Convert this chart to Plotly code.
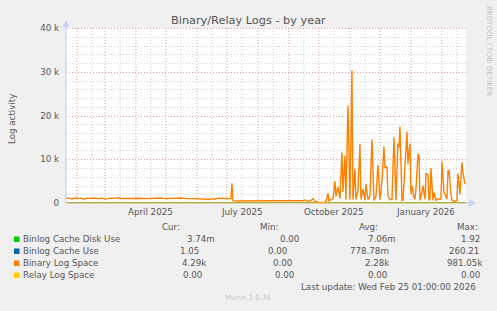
import plotly.graph_objects as go

# ---------------- data ----------------
TITLE = "Binary/Relay Logs - by year"
Y_TITLE = "Log activity"

binary_dates = [
    "2025-01-21", "2025-01-24", "2025-01-27", "2025-01-30", "2025-02-02", "2025-02-05",
    "2025-02-08", "2025-02-11", "2025-02-14", "2025-02-18", "2025-02-22", "2025-02-26",
    "2025-03-02", "2025-03-06", "2025-03-10", "2025-03-14", "2025-03-18", "2025-03-22",
    "2025-03-26", "2025-03-30", "2025-04-02", "2025-04-06", "2025-04-10", "2025-04-14",
    "2025-04-18", "2025-04-22", "2025-04-26", "2025-04-30", "2025-05-04", "2025-05-08",
    "2025-05-12", "2025-05-16", "2025-05-20", "2025-05-24", "2025-05-28", "2025-06-01",
    "2025-06-05", "2025-06-09", "2025-06-13", "2025-06-16", "2025-06-19", "2025-06-22",
    "2025-06-25", "2025-06-28", "2025-07-01", "2025-07-04", "2025-07-05", "2025-07-06",
    "2025-07-07", "2025-07-12", "2025-07-20", "2025-07-28", "2025-08-05", "2025-08-13",
    "2025-08-21", "2025-08-29", "2025-09-04", "2025-09-10", "2025-09-15", "2025-09-17",
    "2025-09-20", "2025-09-23", "2025-09-25", "2025-09-27", "2025-09-29", "2025-09-30",
    "2025-10-02", "2025-10-04", "2025-10-06", "2025-10-08", "2025-10-10", "2025-10-11",
    "2025-10-13", "2025-10-15", "2025-10-17", "2025-10-18", "2025-10-20", "2025-10-22",
    "2025-10-24", "2025-10-25", "2025-10-27", "2025-10-28", "2025-10-30", "2025-11-01",
    "2025-11-03", "2025-11-04", "2025-11-06", "2025-11-07", "2025-11-09", "2025-11-11",
    "2025-11-12", "2025-11-14", "2025-11-16", "2025-11-17", "2025-11-19", "2025-11-21",
    "2025-11-23", "2025-11-25", "2025-11-27", "2025-11-29", "2025-12-01", "2025-12-03",
    "2025-12-05", "2025-12-06", "2025-12-08", "2025-12-09", "2025-12-11", "2025-12-13",
    "2025-12-15", "2025-12-17", "2025-12-19", "2025-12-20", "2025-12-21", "2025-12-23",
    "2025-12-24", "2025-12-25", "2025-12-26", "2025-12-28", "2025-12-29", "2025-12-31",
    "2026-01-01", "2026-01-02", "2026-01-04", "2026-01-05", "2026-01-06", "2026-01-08",
    "2026-01-09", "2026-01-10", "2026-01-12", "2026-01-13", "2026-01-15", "2026-01-16",
    "2026-01-18", "2026-01-19", "2026-01-20", "2026-01-21", "2026-01-23", "2026-01-24",
    "2026-01-26", "2026-01-28", "2026-01-30", "2026-01-31", "2026-02-01", "2026-02-03",
    "2026-02-04", "2026-02-06", "2026-02-07", "2026-02-08", "2026-02-10", "2026-02-11",
    "2026-02-13", "2026-02-14", "2026-02-16", "2026-02-17", "2026-02-19", "2026-02-20",
    "2026-02-21", "2026-02-22", "2026-02-24",
]
binary_values = [
    1050, 1100, 900, 1150, 1050, 1100,
    850, 1100, 1050, 1150, 1000, 1100,
    900, 1100, 1050, 1200, 1000, 1050,
    1100, 1000, 1200, 1100, 1000, 1050,
    950, 1100, 1150, 1000, 1050, 1100,
    1000, 1150, 1050, 950, 1050, 1000,
    1000, 950, 800, 1000, 850, 1100,
    1050, 1150, 1100, 1050, 1000, 4500,
    500, 450, 500, 500, 450, 500,
    500, 550, 500, 600, 500, 700,
    400, 500, 1000, 400, 300, 150,
    100, 200, 100, 300, 2200, 500,
    800, 1000, 5000, 1500, 3700, 1000,
    11600, 2500, 10800, 800, 22300, 800,
    30300, 800, 7800, 800, 2800, 13500,
    800, 3200, 600, 4400, 800, 1500,
    14500, 600, 1500, 8700, 800, 5000,
    12900, 8000, 8300, 1600, 800, 800,
    14900, 600, 13600, 12700, 17500, 600,
    600, 5300, 8000, 16300, 9000, 13600,
    2000, 4000, 1200, 900, 3200, 11200,
    10800, 600, 2500, 3900, 900, 6700,
    6500, 600, 900, 8000, 600, 2400,
    600, 900, 900, 900, 9400, 2500,
    2000, 900, 7400, 7500, 2000, 600,
    500, 300, 600, 6700, 2000, 6500,
    9300, 7000, 4300,
]
zero_dates = ["2025-01-21", "2026-02-25"]
cache_disk_values = [0, 0]
cache_use_values = [0, 0]
relay_values = [0, 0]

series_names = ["Binlog Cache Disk Use", "Binlog Cache Use", "Binary Log Space", "Relay Log Space"]
series_colors = ["#00CC00", "#0066B3", "#FF8000", "#FFCC00"]
cur_vals = ["3.74m", "1.05", "4.29k", "0.00"]
min_vals = ["0.00", "0.00", "0.00", "0.00"]
avg_vals = ["7.06m", "778.78m", "2.28k", "0.00"]
max_vals = ["1.92", "260.21", "981.05k", "0.00"]

y_tickvals = [0, 10000, 20000, 30000, 40000]
y_ticktext = ["0", "10 k", "20 k", "30 k", "40 k"]
y_minor_vals = [2000, 4000, 6000, 8000, 12000, 14000, 16000, 18000, 22000, 24000, 26000,
                28000, 32000, 34000, 36000, 38000]
month_starts = ["2025-02-01", "2025-03-01", "2025-04-01", "2025-05-01", "2025-06-01",
                "2025-07-01", "2025-08-01", "2025-09-01", "2025-10-01", "2025-11-01",
                "2025-12-01", "2026-01-01", "2026-02-01"]
month_mids = ["2025-02-16", "2025-03-16", "2025-04-16", "2025-05-16", "2025-06-16",
              "2025-07-16", "2025-08-16", "2025-09-16", "2025-10-16", "2025-11-16",
              "2025-12-16", "2026-01-16", "2026-02-16"]
x_label_vals = ["2025-04-16", "2025-07-16", "2025-10-16", "2026-01-16"]
x_label_text = ["April 2025", "July 2025", "October 2025", "January 2026"]
x_range = ["2025-01-21 01:00", "2026-02-25 01:00"]
y_range = [0, 40000]

# ---------------- layout constants (pixels) ----------------
W, H = 497, 311
PL, PR, PT, PB = 66, 466, 28, 203  # plot area box
FONT = "DejaVu Sans"
TXT = "#555555"
MAJ = "#E49A9A"
MIN = "#CFCFCF"
DASH = "1px,2px"


def px(x):
    return (x - PL) / (PR - PL)


def py(y):
    return (PB - y) / (PB - PT)


def grid_y(v):
    # snap a value's gridline to the centre of a pixel row (crisp like rrdtool)
    pix = round(PB - (v - y_range[0]) / (y_range[1] - y_range[0]) * (PB - PT))
    return py(pix + 0.5)


fig = go.Figure()

shapes = []
for v in month_mids:
    shapes.append(dict(type="line", xref="x", yref="paper", x0=v, x1=v, y0=0, y1=1,
                       layer="below", line=dict(color=MIN, width=1, dash=DASH)))
for v in y_minor_vals:
    g = grid_y(v)
    shapes.append(dict(type="line", xref="paper", yref="paper", x0=0, x1=1, y0=g, y1=g,
                       layer="below", line=dict(color=MIN, width=1, dash=DASH)))
for v in month_starts:
    shapes.append(dict(type="line", xref="x", yref="paper", x0=v, x1=v, y0=0, y1=1,
                       layer="below", line=dict(color=MAJ, width=1, dash=DASH)))
for v in y_tickvals[1:]:
    g = grid_y(v)
    shapes.append(dict(type="line", xref="paper", yref="paper", x0=0, x1=1, y0=g, y1=g,
                       layer="below", line=dict(color=MAJ, width=1, dash=DASH)))

fig.add_trace(go.Scatter(x=zero_dates, y=cache_disk_values, mode="lines",
                         line=dict(color=series_colors[0], width=1), hoverinfo="skip"))
fig.add_trace(go.Scatter(x=zero_dates, y=cache_use_values, mode="lines",
                         line=dict(color=series_colors[1], width=1), hoverinfo="skip"))
fig.add_trace(go.Scatter(x=binary_dates, y=binary_values, mode="lines",
                         line=dict(color=series_colors[2], width=1.4), hoverinfo="skip"))
fig.add_trace(go.Scatter(x=zero_dates, y=relay_values, mode="lines",
                         line=dict(color=series_colors[3], width=1.2), hoverinfo="skip"))

annotations = []

for v, t in zip(x_label_vals, x_label_text):
    annotations.append(dict(x=v, xref="x", y=py(212), yref="paper", text=t, showarrow=False,
                            xanchor="center", yanchor="middle",
                            font=dict(family=FONT, size=8.7, color=TXT)))

annotations.append(dict(x=px(248), y=py(21), xref="paper", yref="paper", text=TITLE,
                        showarrow=False, xanchor="center", yanchor="middle",
                        font=dict(family=FONT, size=11.3, color=TXT)))
annotations.append(dict(x=px(12), y=py(119), xref="paper", yref="paper", text=Y_TITLE,
                        showarrow=False, textangle=-90, xanchor="center", yanchor="middle",
                        font=dict(family=FONT, size=8.7, color=TXT)))
annotations.append(dict(x=px(489), y=py(51), xref="paper", yref="paper",
                        text="RRDTOOL / TOBI OETIKER", showarrow=False, textangle=90,
                        xanchor="center", yanchor="middle",
                        font=dict(family=FONT, size=7, color="#C4C4C4")))

header = [("Cur:", 160), ("Min:", 258), ("Avg:", 357), ("Max:", 455)]
for t, x in header:
    annotations.append(dict(x=px(x), y=py(227), xref="paper", yref="paper", text=t,
                            showarrow=False, xanchor="left", yanchor="middle",
                            font=dict(family=FONT, size=8.7, color=TXT)))
row_y = [239, 251, 263, 275]
cur_x = [185, 178, 180, 181]
min_x = [278, 266, 271, 273]
avg_x = [366, 348, 363, 366]
max_x = [459, 447, 445, 459]
for i in range(4):
    yy = py(row_y[i])
    shapes.append(dict(type="rect", xref="paper", yref="paper",
                       x0=px(14), x1=px(19.5), y0=py(row_y[i] + 3), y1=py(row_y[i] - 2.5),
                       fillcolor=series_colors[i], line=dict(width=0)))
    annotations.append(dict(x=px(20.5), y=yy, xref="paper", yref="paper", text=series_names[i],
                            showarrow=False, xanchor="left", yanchor="middle",
                            font=dict(family=FONT, size=8.7, color=TXT)))
    for vals, xs in ((cur_vals, cur_x), (min_vals, min_x), (avg_vals, avg_x), (max_vals, max_x)):
        annotations.append(dict(x=px(xs[i]), y=yy, xref="paper", yref="paper", text=vals[i],
                                showarrow=False, xanchor="left", yanchor="middle",
                                font=dict(family=FONT, size=8.7, color=TXT)))
annotations.append(dict(x=px(299), y=py(287), xref="paper", yref="paper",
                        text="Last update: Wed Feb 25 01:00:00 2026", showarrow=False,
                        xanchor="left", yanchor="middle",
                        font=dict(family=FONT, size=8.7, color=TXT)))
annotations.append(dict(x=px(248), y=py(298), xref="paper", yref="paper",
                        text="Munin 2.0.76", showarrow=False, xanchor="center", yanchor="middle",
                        font=dict(family=FONT, size=7, color="#C8C8C8")))

AX = "#C8D0F4"
shapes.append(dict(type="line", xref="paper", yref="paper", x0=px(66), x1=px(66),
                   y0=py(203), y1=py(24), line=dict(color=AX, width=1.2)))
shapes.append(dict(type="path", xref="paper", yref="paper",
                   path=f"M {px(62.5)},{py(27)} L {px(69.5)},{py(27)} L {px(66)},{py(20)} Z",
                   fillcolor=AX, line=dict(width=0)))
shapes.append(dict(type="line", xref="paper", yref="paper", x0=px(466), x1=px(471),
                   y0=py(203), y1=py(203), line=dict(color=AX, width=1.2)))
shapes.append(dict(type="path", xref="paper", yref="paper",
                   path=f"M {px(469)},{py(199.5)} L {px(469)},{py(206.5)} L {px(476)},{py(203)} Z",
                   fillcolor=AX, line=dict(width=0)))

fig.update_layout(
    width=W, height=H,
    margin=dict(l=PL, r=W - PR, t=PT, b=H - PB, pad=0),
    paper_bgcolor="#F0F0F0",
    plot_bgcolor="#FFFFFF",
    showlegend=False,
    annotations=annotations,
    shapes=shapes,
    font=dict(family=FONT, size=8.7, color=TXT),
    xaxis=dict(
        type="date", range=x_range, showticklabels=False, ticks="", showgrid=False,
        zeroline=False, showline=True, linecolor="#E8CFA0", linewidth=1, fixedrange=True,
    ),
    yaxis=dict(
        range=y_range, tickmode="array", tickvals=y_tickvals, ticktext=y_ticktext,
        ticks="", ticklabelstandoff=6, showgrid=False, zeroline=False, showline=False,
        tickfont=dict(family=FONT, size=8.7, color=TXT), fixedrange=True,
    ),
)

fig.write_html("out.html")
